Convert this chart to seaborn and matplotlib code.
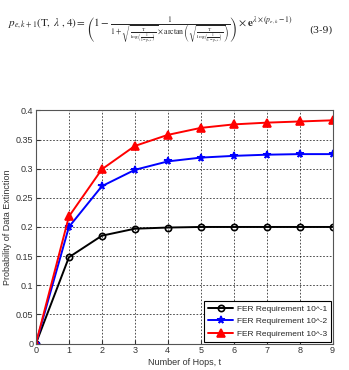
import numpy as np
import pandas as pd
import matplotlib
matplotlib.use("Agg")
import matplotlib.pyplot as plt
import seaborn as sns

hops = [0, 1, 2, 3, 4, 5, 6, 7, 8, 9]
fer_1 = [0, 0.148, 0.185, 0.197, 0.199, 0.200, 0.200, 0.200, 0.200, 0.200]
fer_2 = [0, 0.200, 0.270, 0.298, 0.3125, 0.319, 0.322, 0.324, 0.325, 0.325]
fer_3 = [0, 0.218, 0.299, 0.339, 0.358, 0.370, 0.376, 0.379, 0.381, 0.383]
labels = ["FER Requirement 10^-1", "FER Requirement 10^-2", "FER Requirement 10^-3"]
colors = ["black", "blue", "red"]
markers = ["o", "*", "^"]
msizes = [4.5, 5.5, 5.5]

sns.set_style("ticks")
plt.rcParams['font.family'] = ['Liberation Sans', 'DejaVu Sans']
plt.rcParams['mathtext.fontset'] = 'stix'

fig = plt.figure(figsize=(3.49, 3.70), dpi=100)
ax = fig.add_axes([0.103, 0.0716, 0.850, 0.630])

for vals, lab, c, m, ms in zip([fer_1, fer_2, fer_3], labels, colors, markers, msizes):
    df = pd.DataFrame({"t": hops, "p": vals})
    mfc = "none" if m == "o" else c
    sns.lineplot(data=df, x="t", y="p", ax=ax, color=c, marker=m, markersize=ms,
                 markerfacecolor=mfc, markeredgecolor=c, markeredgewidth=1.2, linewidth=1.4, label=lab)

ax.set_xlim(0, 9)
ax.set_ylim(0, 0.4)
ax.set_xticks(range(10))
ax.set_yticks(np.arange(0, 0.41, 0.05))
ax.set_yticklabels(["0", "0.05", "0.1", "0.15", "0.2", "0.25", "0.3", "0.35", "0.4"])
ax.tick_params(labelsize=6.5, direction="in", length=3, pad=2, colors="#333333")
ax.grid(True, color="black", linestyle=(0, (2, 2)), linewidth=0.6, alpha=0.8)
for s in ax.spines.values():
    s.set_visible(True)
    s.set_color("#555555")
    s.set_linewidth(0.8)
ax.set_xlabel("Number of Hops, t", fontsize=6.5, labelpad=2, color="#333333")
ax.set_ylabel("Probability of Data Extinction", fontsize=6.5, labelpad=3, color="#333333")

leg = ax.legend(loc="lower right", fontsize=6, frameon=True, fancybox=False, edgecolor="black",
                borderaxespad=0.2, handlelength=3.0, handletextpad=0.4, labelspacing=0.55,
                borderpad=0.5, framealpha=1)
leg.get_frame().set_linewidth(0.8)

eq = (r"$p_{e,k+1}(\mathrm{T},\ \lambda\ ,4) = \left(1 - \frac{1}{1+\sqrt{\frac{\mathrm{T}}{\log\left(\frac{1}{1-p_{e,k}}\right)}}"
      r"\times\arctan\left(\sqrt{\frac{\mathrm{T}}{\log\left(\frac{1}{1-p_{e,k}}\right)}}\right)}\right)\times\mathbf{e}^{\lambda\times(p_{e,k}-1)}$")
fig.text(0.022, 0.92, eq, fontsize=8.0, ha="left", va="center")
fig.text(0.885, 0.92, "(3-9)", fontsize=7, family="DejaVu Serif", ha="left", va="center")

fig.savefig("out.png", dpi=100)
